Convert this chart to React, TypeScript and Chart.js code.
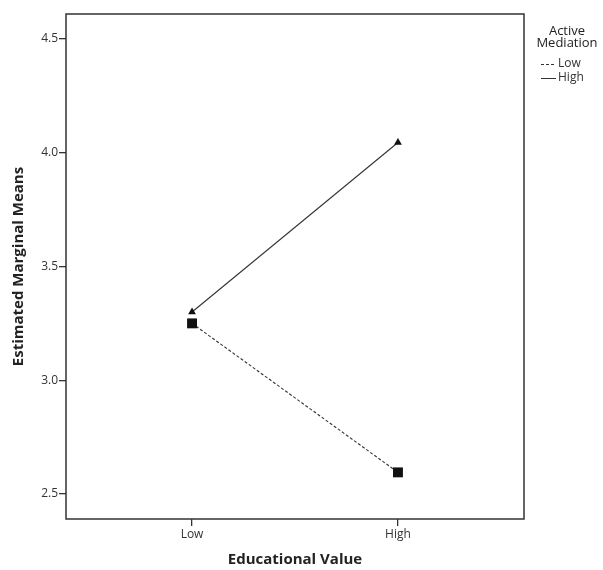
import React, { useEffect, useRef } from "react";
import { Chart, registerables } from "chart.js";

Chart.register(...registerables);

const categories = ["Low", "High"];
const categoryPositions = [0, 1];
const lowMediation = [3.25, 2.595];
const highMediation = [3.3, 4.045];
const yTicks = [2.5, 3.0, 3.5, 4.0, 4.5];
const legendTitle = ["Active", "Mediation"];
const seriesNames = ["Low", "High"];

const FONT = "'Open Sans', 'DejaVu Sans', sans-serif";
const INK = "#333333";

const legendPlugin = {
  id: "spssLegend",
  afterDraw(chart: any) {
    const ctx = chart.ctx;
    ctx.save();
    ctx.fillStyle = "#222";
    ctx.textAlign = "center";
    ctx.textBaseline = "middle";
    ctx.font = `13px ${FONT}`;
    const cx = 567;
    ctx.fillText(legendTitle[0], cx, 31);
    ctx.fillText(legendTitle[1], cx, 43);
    ctx.font = `12px ${FONT}`;
    ctx.textAlign = "left";
    const rows = [64, 78];
    chart.data.datasets.forEach((ds: any, i: number) => {
      const y = rows[i];
      ctx.beginPath();
      ctx.setLineDash(ds.borderDash || []);
      ctx.strokeStyle = ds.borderColor;
      ctx.lineWidth = 1;
      ctx.moveTo(541, y + 0.5);
      ctx.lineTo(556, y + 0.5);
      ctx.stroke();
      ctx.setLineDash([]);
      ctx.fillStyle = "#333";
      ctx.fillText(ds.label, 558, y);
    });
    ctx.restore();
  },
};

const boxPlugin = {
  id: "frameBox",
  afterDraw(chart: any) {
    const { ctx, chartArea } = chart;
    ctx.save();
    ctx.strokeStyle = INK;
    ctx.lineWidth = 1.5;
    ctx.strokeRect(chartArea.left, chartArea.top, chartArea.right - chartArea.left, chartArea.bottom - chartArea.top);
    ctx.restore();
  },
};

export default function App() {
  const ref = useRef<HTMLCanvasElement>(null);

  useEffect(() => {
    if (!ref.current) return;
    const chart = new Chart(ref.current, {
      type: "line",
      data: {
        datasets: [
          {
            label: seriesNames[0],
            data: categoryPositions.map((x, i) => ({ x, y: lowMediation[i] })),
            borderColor: INK,
            backgroundColor: "#111",
            borderWidth: 1.1,
            borderDash: [3, 2],
            pointStyle: "rect",
            pointRadius: 7,
            pointBorderWidth: 0,
            pointBackgroundColor: "#111",
          },
          {
            label: seriesNames[1],
            data: categoryPositions.map((x, i) => ({ x, y: highMediation[i] })),
            borderColor: INK,
            backgroundColor: "#111",
            borderWidth: 1.1,
            pointStyle: "triangle",
            pointRadius: 4.5,
            pointBorderWidth: 0,
            pointBackgroundColor: "#111",
          },
        ],
      },
      options: {
        animation: false,
        responsive: false,
        layout: { padding: { left: 0, top: 14, right: 79, bottom: 0 } },
        plugins: {
          legend: { display: false },
          tooltip: { enabled: false },
        },
        scales: {
          x: {
            type: "linear",
            min: -0.612,
            max: 1.612,
            afterBuildTicks: (s: any) => {
              s.ticks = categoryPositions.map((v) => ({ value: v }));
            },
            afterFit: (s: any) => {
              s.height = 51;
            },
            ticks: {
              autoSkip: false,
              maxRotation: 0,
              padding: 1,
              color: INK,
              font: { size: 12, family: FONT },
              callback: (v: any) => categories[categoryPositions.indexOf(Number(v))] ?? "",
            },
            grid: { drawOnChartArea: false, tickLength: 7, color: INK, lineWidth: 1.3 },
            border: { display: false },
            title: {
              display: true,
              text: "Educational Value",
              color: "#222",
              font: { size: 15, weight: "bold", family: FONT },
              padding: { top: 0, bottom: 1 },
            },
          },
          y: {
            type: "linear",
            min: 2.39,
            max: 4.61,
            afterBuildTicks: (s: any) => {
              s.ticks = yTicks.map((v) => ({ value: v }));
            },
            afterFit: (s: any) => {
              s.width = 66;
            },
            ticks: {
              padding: 1,
              color: INK,
              font: { size: 12, family: FONT },
              callback: (v: any) => Number(v).toFixed(1),
            },
            grid: { drawOnChartArea: false, tickLength: 7, color: INK, lineWidth: 1.3 },
            border: { display: false },
            title: {
              display: true,
              text: "Estimated Marginal Means",
              color: "#222",
              font: { size: 15, weight: "bold", family: FONT },
              padding: { top: 9.5, bottom: 0 },
            },
          },
        },
      },
      plugins: [boxPlugin, legendPlugin],
    } as any);
    return () => chart.destroy();
  }, []);

  return (
    <div style={{ position: "fixed", left: 0, top: 0, width: 603, height: 570, background: "#fff" }}>
      <canvas ref={ref} width={603} height={570} style={{ display: "block" }} />
    </div>
  );
}
